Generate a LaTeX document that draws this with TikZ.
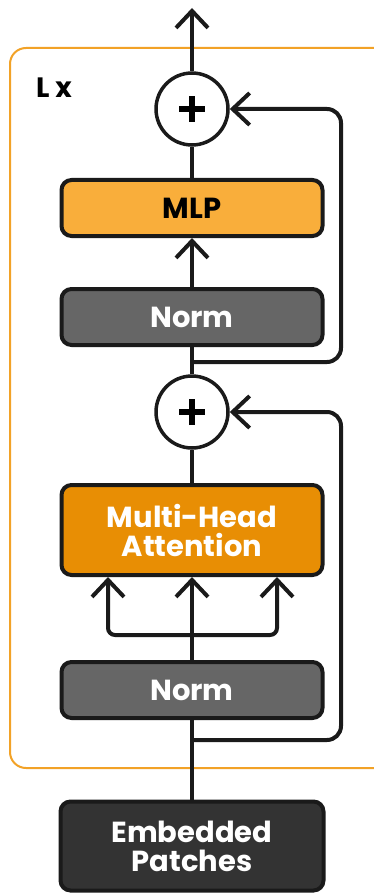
\documentclass[tikz,border=0pt]{standalone}
\usepackage{fontspec}
\setmainfont{Poppins}
\usetikzlibrary{arrows.meta}
\definecolor{mlpc}{HTML}{F9AE3B}
\definecolor{mhac}{HTML}{E88E04}
\definecolor{normc}{HTML}{666666}
\definecolor{embc}{HTML}{333333}
\definecolor{framec}{HTML}{F2A227}
\definecolor{linec}{HTML}{1A1A1A}
\tikzset{
  blk/.style={draw=linec, line width=4pt, rounded corners=10pt, minimum width=261pt,
    inner sep=0pt, align=center, font=\fontsize{29}{29}\selectfont\bfseries},
  addc/.style={circle, draw=linec, line width=3.5pt, fill=white, minimum size=72pt, inner sep=0pt},
  conn/.style={draw=linec, line width=4pt},
  arr/.style={conn, -{Straight Barb[length=17pt,width=32pt,line width=4pt]}},
  plusbar/.style={draw=black, line width=5.5pt}
}
\begin{document}
\begin{tikzpicture}[x=1pt,y=-1pt]
\useasboundingbox (0,0) rectangle (374,896);
\begin{scope}
\clip (0,0) rectangle (374,896);
\draw[framec, line width=2pt, rounded corners=16pt] (10,48) rectangle (392,768);
\end{scope}
\node[font=\fontsize{28}{30}\selectfont\bfseries, anchor=base west, inner sep=0pt] (lx) at (36,98) {L x};

\node[blk, fill=mlpc, text=black, minimum height=56pt] (mlp) at (192,208) {MLP};
\node[blk, fill=normc, text=white, minimum height=56pt] (norm1) at (192,317) {Norm};
\node[blk, fill=mhac, text=white, minimum height=90pt] (mha) at (192,530) {Multi-Head\\Attention};
\node[blk, fill=normc, text=white, minimum height=56pt] (norm2) at (192,690) {Norm};
\node[blk, fill=embc, text=white, minimum height=89pt, minimum width=263pt] (emb) at (192,846) {Embedded\\Patches};

\node[addc] (p1) at (192,109) {};
\node[addc] (p2) at (192,412) {};
\foreach \p in {p1,p2}{
  \draw[plusbar] ([xshift=-13pt]\p.center) -- ([xshift=13pt]\p.center);
  \draw[plusbar] ([yshift=-13pt]\p.center) -- ([yshift=13pt]\p.center);
}

\coordinate (out) at (192,8);
\coordinate (r1) at (192,362);
\coordinate (r2) at (192,740);
\coordinate (b) at (192,635);

\draw[arr] (p1.north) -- (out);
\draw[conn] (mlp.north) -- (p1.south);
\draw[arr] (norm1.north) -- (mlp.south);
\draw[conn] (p2.north) -- (norm1.south);
\draw[arr, rounded corners=14pt] (r1) -- (341,362) -- (341,109) -- (p1.east);
\draw[conn] (mha.north) -- (p2.south);
\draw[arr] (norm2.north) -- (mha.south);
\draw[arr, rounded corners=7pt] (b) -- (108,635) -- ([xshift=-84pt]mha.south);
\draw[arr, rounded corners=7pt] (b) -- (277,635) -- ([xshift=85pt]mha.south);
\draw[arr, rounded corners=14pt] (r2) -- (341,740) -- (341,412) -- (p2.east);
\draw[conn] (emb.north) -- (norm2.south);
\end{tikzpicture}
\end{document}
